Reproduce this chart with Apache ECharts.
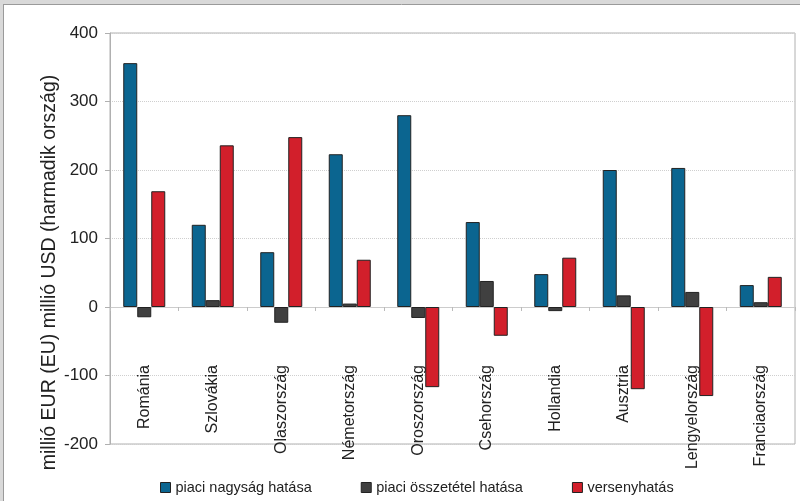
<!DOCTYPE html>
<html>
<head>
<meta charset="utf-8">
<script src="https://cdn.jsdelivr.net/npm/echarts@6/dist/echarts.min.js"></script>
<style>
  body { margin: 0; background: #fff; }
  #chart { width: 800px; height: 501px; }
</style>
</head>
<body>
<div id="chart"></div>
<script>
var countries = ['Románia', 'Szlovákia', 'Olaszország', 'Németország', 'Oroszország',
                 'Csehország', 'Hollandia', 'Ausztria', 'Lengyelország', 'Franciaország']
var piaci_nagysag = [356, 120, 80, 223, 280, 124, 48, 200, 203, 32]
var piaci_osszetetel = [-15, 10, -23, 5, -16, 38, -6, 17, 22, 7]
var verseny = [169, 236, 248, 69, -117, -42, 72, -120, -130, 44]
var y_ticks = [-200, -100, 0, 100, 200, 300, 400]

var color_list = ['#0b6590', '#404040', '#d21f2b']
var font = 'Arial, "Liberation Sans", sans-serif'

function bar(name, data) {
    return {
        name: name,
        type: 'bar',
        data: data,
        barWidth: 14,
        barGap: '0%',
        itemStyle: {
            borderColor: '#222',
            borderWidth: 1
        }
    }
}

var option = {
    color: color_list,
    animation: false,
    backgroundColor: '#fff',
    textStyle: { fontFamily: font },
    graphic: [
        { type: 'rect', shape: { x: 0, y: 0, width: 800, height: 4 }, style: { fill: '#d9d9d9' }, silent: true },
        { type: 'rect', shape: { x: 0, y: 0, width: 3, height: 501 }, style: { fill: '#d9d9d9' }, silent: true },
        { type: 'line', shape: { x1: 3, y1: 4.5, x2: 800, y2: 4.5 }, style: { stroke: '#9a9a9a', lineWidth: 1 }, silent: true },
        { type: 'line', shape: { x1: 3.5, y1: 4, x2: 3.5, y2: 501 }, style: { stroke: '#9a9a9a', lineWidth: 1 }, silent: true }
    ],
    grid: {
        left: 110,
        right: 5,
        top: 33,
        bottom: 57,
        containLabel: false,
        outerBoundsMode: 'none',
        show: true,
        borderColor: '#b0b0b0',
        borderWidth: 1
    },
    legend: {
        left: 155,
        top: 475,
        itemWidth: 10,
        itemHeight: 10,
        itemGap: 49,
        icon: 'rect',
        textStyle: { fontSize: 14.5, color: '#222', fontFamily: font },
        data: [
            { name: 'piaci nagyság hatása', itemStyle: { borderColor: '#222', borderWidth: 1 } },
            { name: 'piaci összetétel hatása', itemStyle: { borderColor: '#222', borderWidth: 1 } },
            { name: 'versenyhatás', itemStyle: { borderColor: '#222', borderWidth: 1 } }
        ]
    },
    xAxis: {
        type: 'category',
        data: countries,
        axisLine: { onZero: true, lineStyle: { color: '#cccccc', width: 1 } },
        axisTick: { show: true, length: 4, lineStyle: { color: '#bbbbbb' } },
        axisLabel: {
            rotate: 90,
            margin: -79,
            fontSize: 16,
            color: '#222',
            fontFamily: font
        }
    },
    yAxis: {
        type: 'value',
        min: y_ticks[0],
        max: y_ticks[y_ticks.length - 1],
        interval: 100,
        name: 'millió EUR (EU) millió USD (harmadik ország)',
        nameLocation: 'middle',
        nameGap: 50,
        nameMoveOverlap: false,
        nameTextStyle: { fontSize: 19.5, color: '#222', fontFamily: font, padding: [0, 68, 0, 0] },
        axisLine: { show: true, lineStyle: { color: '#b0b0b0' } },
        axisTick: { show: true, length: 5, lineStyle: { color: '#b0b0b0' } },
        axisLabel: { fontSize: 17, color: '#222', margin: 12, fontFamily: font },
        splitLine: { show: true, lineStyle: { color: '#cfcfcf', type: 'dotted' } }
    },
    series: [
        bar('piaci nagyság hatása', piaci_nagysag),
        bar('piaci összetétel hatása', piaci_osszetetel),
        bar('versenyhatás', verseny)
    ]
}

var myChart = echarts.init(document.getElementById('chart'))
myChart.setOption(option, true)
</script>
</body>
</html>
